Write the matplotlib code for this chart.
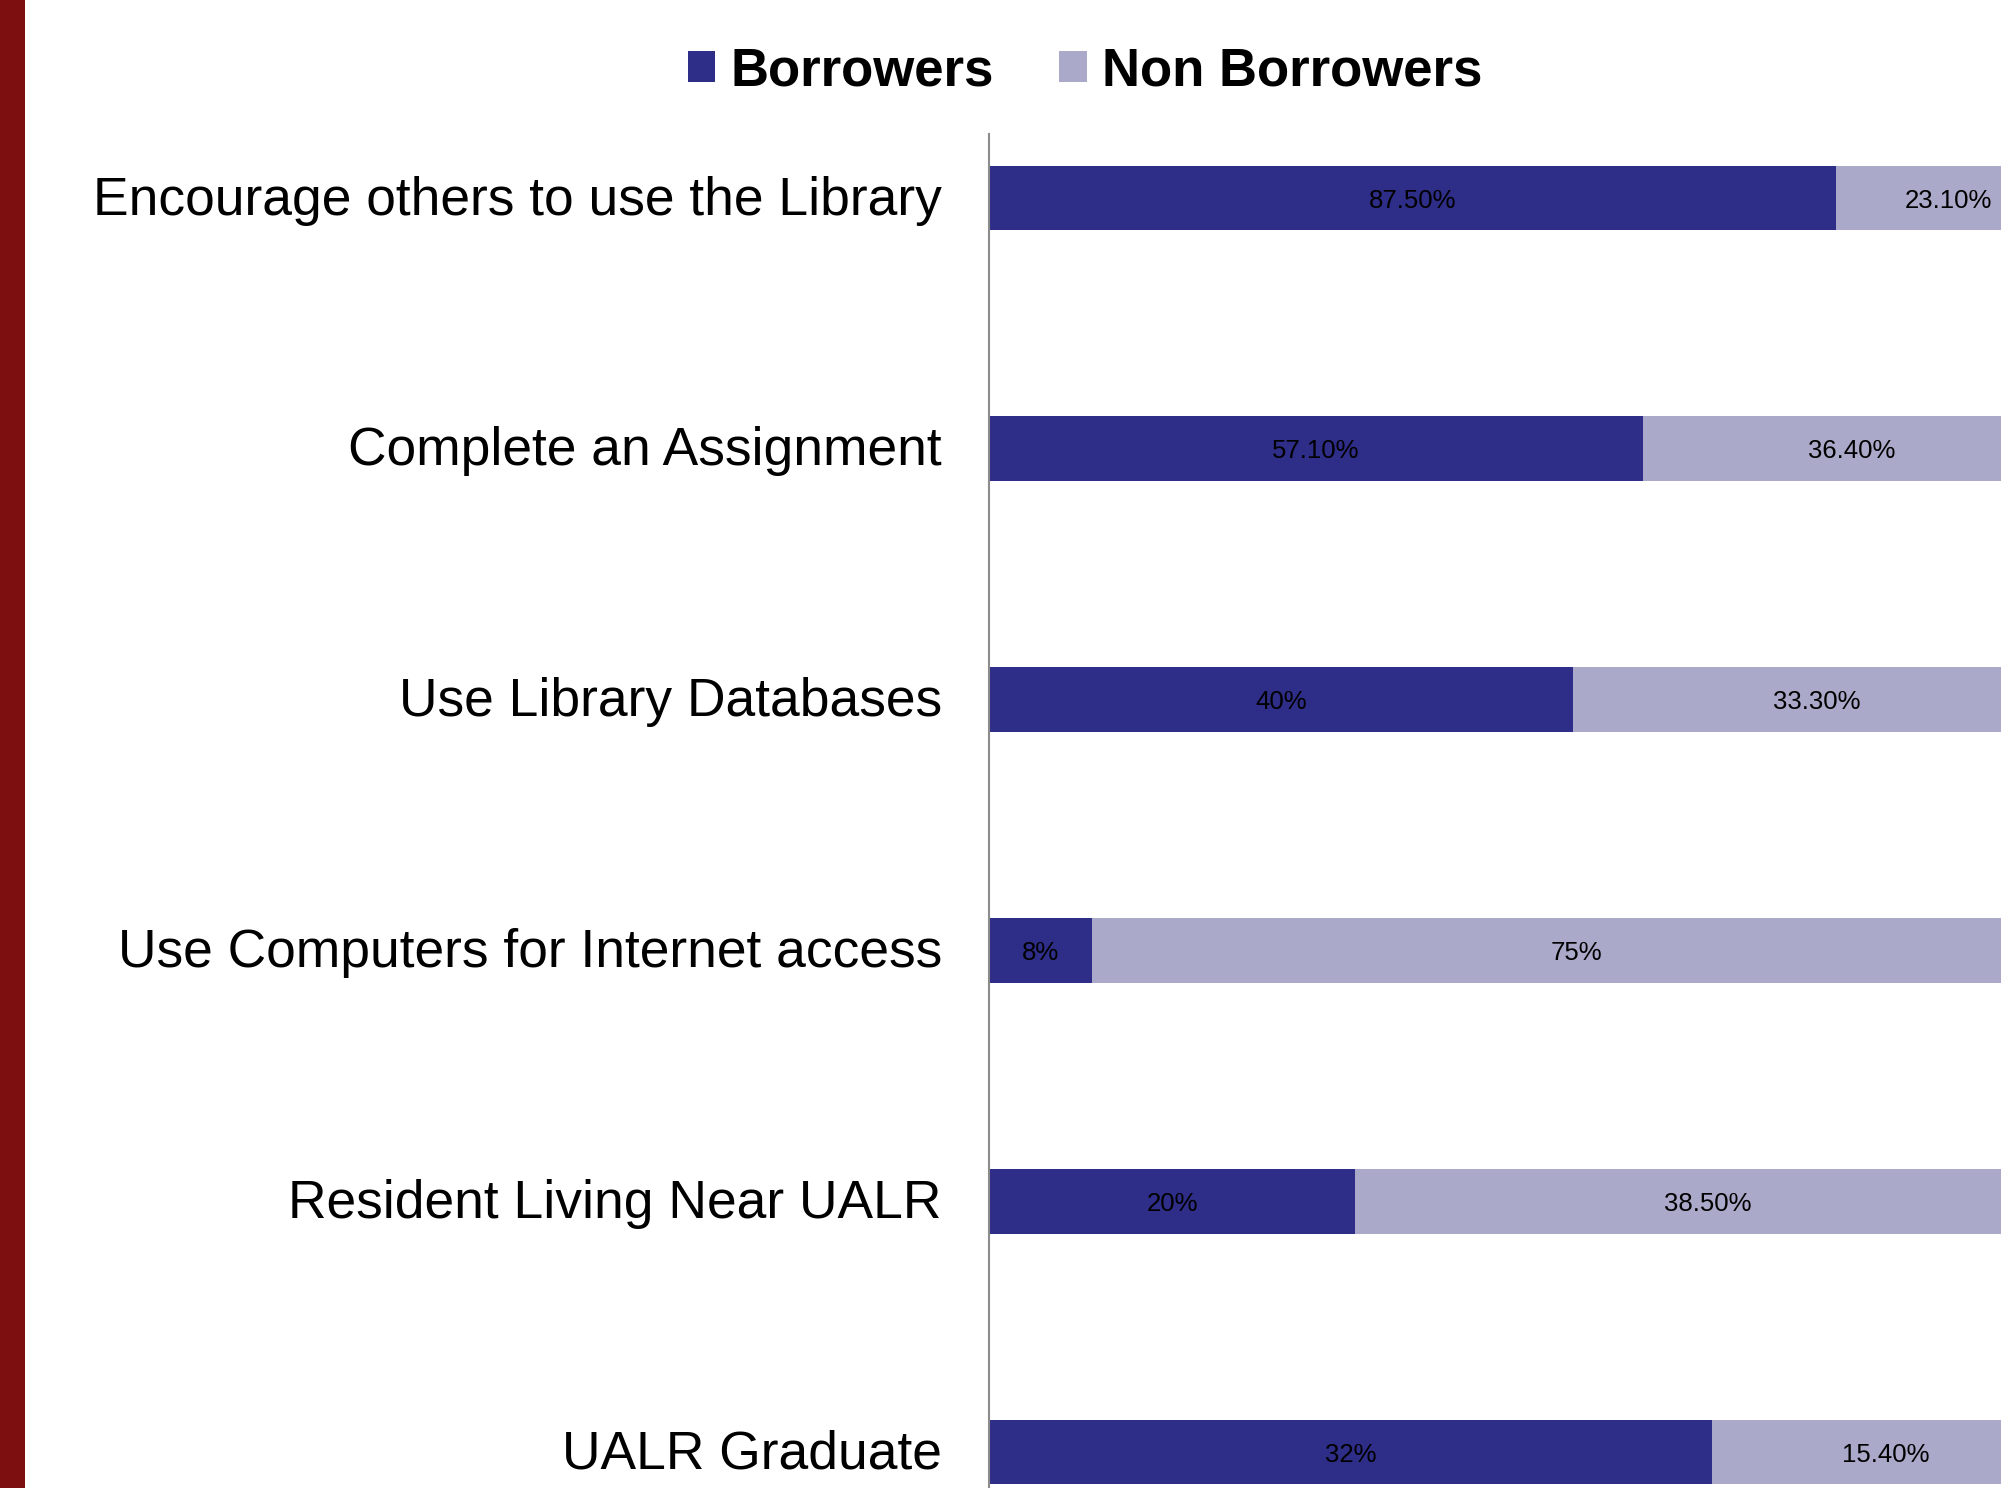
import matplotlib
matplotlib.use("Agg")
import matplotlib.pyplot as plt
import matplotlib.transforms as mtransforms
from matplotlib.patches import Rectangle, Patch

plt.rcParams['font.family'] = ['Liberation Sans', 'DejaVu Sans']

categories = [
    "Encourage others to use the Library",
    "Complete an Assignment",
    "Use Library Databases",
    "Use Computers for Internet access",
    "Resident Living Near UALR",
    "UALR Graduate",
]
borrowers = [87.5, 57.1, 40, 8, 20, 32]
non_borrowers = [23.1, 36.4, 33.3, 75, 38.5, 15.4]
series_names = ["Borrowers", "Non Borrowers"]

C_BORROW = "#2E2D87"
C_NON = "#AAA9C9"
C_STRIPE = "#7D0F10"


def fmt(v):
    return f"{v:.0f}%" if float(v).is_integer() else f"{v:.2f}%"


W, H = 2001, 1488
fig = plt.figure(figsize=(W / 100, H / 100), dpi=100)
fig.patch.set_facecolor("white")

# dark red band along the left edge
fig.patches.append(Rectangle((0, 0), 25 / W, 1, transform=fig.transFigure,
                             facecolor=C_STRIPE, edgecolor="none", zorder=0))

ax_left, ax_right = 989, 2060
ax_top = 134
ax = fig.add_axes([ax_left / W, 0, (ax_right - ax_left) / W, 1 - ax_top / H])

ypos = list(range(len(categories)))
tot = [b + n for b, n in zip(borrowers, non_borrowers)]
b_share = [b / t for b, t in zip(borrowers, tot)]
n_share = [n / t for n, t in zip(non_borrowers, tot)]

bar_h = 0.258
ax.barh(ypos, b_share, height=bar_h, color=C_BORROW, label=series_names[0])
ax.barh(ypos, n_share, left=b_share, height=bar_h, color=C_NON, label=series_names[1])

down = mtransforms.ScaledTranslation(0, -2.5 / 100, fig.dpi_scale_trans)
for y, bs, ns, bv, nv in zip(ypos, b_share, n_share, borrowers, non_borrowers):
    ax.text(bs / 2, y, fmt(bv), ha="center", va="center", fontsize=18.5,
            color="black", transform=ax.transData + down)
    ax.text(bs + ns / 2, y, fmt(nv), ha="center", va="center", fontsize=18.5,
            color="black", transform=ax.transData + down)

spacing = 250.8
first_c = 198
ax.set_ylim((H - first_c) / spacing, -(first_c - ax_top) / spacing)
ax.set_xlim(0, 1)
ax.set_yticks(ypos)
ax.set_yticklabels(categories, fontsize=38.4)
ax.tick_params(axis="y", length=0, pad=34)
up = mtransforms.ScaledTranslation(0, 3 / 100, fig.dpi_scale_trans)
for lbl in ax.get_yticklabels():
    lbl.set_transform(lbl.get_transform() + up)
ax.set_xticks([])
for s in ["top", "right", "bottom"]:
    ax.spines[s].set_visible(False)
ax.spines["left"].set_color("#8C8C8C")
ax.spines["left"].set_linewidth(1.5)

handles = [Patch(facecolor=C_BORROW), Patch(facecolor=C_NON)]
fig.legend(handles, series_names, loc="center", bbox_to_anchor=(1085 / W, 1 - 71 / H),
           ncol=2, frameon=False, prop={"weight": "bold", "size": 38},
           handlelength=0.52, handleheight=0.52, handletextpad=0.28,
           columnspacing=1.25, borderpad=0)

fig.savefig("out.png", dpi=100)
